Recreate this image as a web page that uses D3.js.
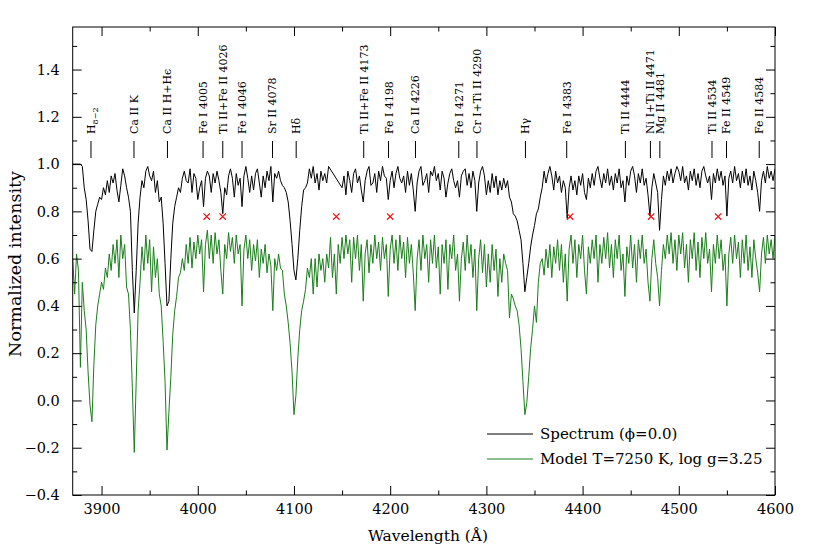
<!DOCTYPE html>
<html><head><meta charset="utf-8">
<script src="https://cdn.jsdelivr.net/npm/d3@7"></script>
<style>body{margin:0;background:#fff} svg{display:block} text{font-family:"DejaVu Serif",serif;fill:#000}</style>
</head><body><svg id="c" width="817" height="550"></svg>
<script>
// ---- data ----
const lambdaStart = 3870, lambdaStep = 2;   // sampling of both spectra (Å)
// Observed spectrum (phi = 0.0), one row = 20 Å; null = no data (gap)
const observed = [
 1.00,1.00,1.00,1.00,1.00,0.99,0.90,0.85,0.76,0.64,
 0.63,0.72,0.80,0.83,0.86,0.85,0.90,0.87,0.93,0.88,
 0.95,0.92,0.96,0.89,0.84,0.91,0.98,0.95,0.90,0.86,
 0.80,0.55,0.37,0.55,0.75,0.86,0.93,0.90,0.97,0.99,
 0.95,0.93,0.97,0.88,0.93,0.84,0.86,0.75,0.58,0.40,
 0.42,0.60,0.75,0.82,0.86,0.90,0.88,0.94,0.97,0.93,
 0.92,0.98,0.88,0.96,0.94,0.85,0.90,0.93,0.82,0.94,
 0.97,0.95,0.88,0.96,0.92,0.97,0.93,0.88,0.79,0.90,
 0.87,0.95,0.98,0.94,0.86,0.96,0.91,0.94,0.82,0.95,
 0.99,0.94,0.88,0.95,0.89,0.96,0.98,0.92,0.86,0.95,
 0.90,0.97,0.93,0.99,0.84,0.96,0.94,0.97,0.93,0.91,
 0.90,0.88,0.84,0.76,0.66,0.55,0.51,0.60,0.72,0.82,
 0.89,0.90,0.92,0.98,0.94,0.99,0.92,0.96,0.89,0.97,
 0.93,0.96,0.92,0.99,null,null,null,null,null,null,
 0.90,0.95,0.87,0.97,0.93,0.88,0.96,0.98,0.92,0.95,
 0.89,0.84,0.93,0.97,0.99,0.91,0.92,0.96,0.88,0.97,
 0.93,0.99,0.95,0.94,0.85,0.93,0.97,0.90,0.96,0.99,
 0.94,0.92,0.95,0.88,0.97,0.91,0.96,0.89,0.80,0.92,
 0.97,0.99,0.91,0.93,0.96,0.88,0.97,0.95,0.99,0.93,
 0.96,0.89,0.97,0.94,0.86,0.92,0.96,0.98,0.93,0.90,
 0.93,0.86,0.95,0.97,0.98,0.91,0.96,0.90,0.97,0.93,
 0.80,0.92,0.97,0.99,0.95,0.87,0.93,0.88,0.96,0.90,
 0.95,0.87,0.93,0.89,0.94,0.90,0.93,0.86,0.84,0.79,
 0.78,0.76,0.72,0.68,0.58,0.46,0.52,0.58,0.65,0.70,
 0.74,0.79,0.81,0.86,0.90,0.97,0.92,0.96,0.99,0.95,
 0.89,0.97,0.92,0.95,0.88,0.93,0.90,0.77,0.90,0.95,
 0.89,0.93,0.87,0.95,0.91,0.96,0.88,0.85,0.94,0.90,
 0.96,0.91,0.97,0.99,0.94,0.90,0.96,0.92,0.98,0.91,
 0.95,0.89,0.96,0.92,0.98,0.90,0.93,0.84,0.95,0.91,
 0.97,0.99,0.95,0.88,0.96,0.92,0.98,0.91,0.94,0.87,
 0.78,0.90,0.96,0.92,0.88,0.72,0.85,0.95,0.91,0.97,
 0.93,0.98,0.92,0.96,0.99,0.97,0.93,0.99,0.92,0.95,
 0.89,0.97,0.93,0.98,0.91,0.96,0.90,0.97,0.99,0.95,
 0.92,0.95,0.85,0.96,0.92,0.98,0.93,0.97,0.91,0.95,
 0.78,0.94,0.97,0.92,0.99,0.93,0.96,0.90,0.97,0.92,
 0.98,0.91,0.95,0.89,0.97,0.93,0.88,0.80,0.93,0.97,
 0.92,0.99,0.94,0.97,0.93,0.98
];
// Model T=7250 K, log g=3.25, same sampling
const model = [
 0.60,0.45,0.62,0.55,0.14,0.50,0.38,0.30,0.12,-0.02,
 -0.09,0.15,0.32,0.40,0.45,0.50,0.47,0.56,0.52,0.62,
 0.55,0.66,0.58,0.68,0.52,0.70,0.60,0.66,0.48,0.45,
 0.30,0.05,-0.22,0.08,0.38,0.50,0.65,0.55,0.70,0.58,
 0.68,0.46,0.65,0.52,0.60,0.45,0.40,0.25,0.08,-0.21,
 -0.05,0.10,0.28,0.38,0.44,0.52,0.54,0.60,0.55,0.66,
 0.58,0.69,0.56,0.67,0.60,0.70,0.62,0.68,0.46,0.66,
 0.72,0.60,0.70,0.58,0.71,0.62,0.68,0.55,0.45,0.66,
 0.60,0.71,0.63,0.69,0.58,0.70,0.62,0.66,0.40,0.64,
 0.70,0.60,0.68,0.55,0.66,0.59,0.68,0.52,0.64,0.58,
 0.66,0.54,0.62,0.57,0.38,0.60,0.55,0.62,0.56,0.55,
 0.45,0.40,0.33,0.24,0.12,-0.06,0.02,0.18,0.30,0.38,
 0.42,0.47,0.56,0.52,0.60,0.45,0.60,0.48,0.62,0.55,
 0.60,0.50,0.62,0.56,0.69,0.52,0.62,0.45,0.66,0.58,
 0.69,0.60,0.70,0.62,0.68,0.50,0.69,0.60,0.70,0.55,
 0.66,0.42,0.62,0.68,0.54,0.66,0.58,0.70,0.60,0.67,
 0.55,0.69,0.60,0.66,0.44,0.64,0.70,0.58,0.68,0.55,
 0.70,0.60,0.67,0.52,0.69,0.58,0.66,0.54,0.38,0.60,
 0.68,0.55,0.70,0.60,0.66,0.50,0.68,0.58,0.70,0.56,
 0.65,0.45,0.66,0.58,0.68,0.47,0.66,0.60,0.70,0.55,
 0.62,0.42,0.60,0.67,0.55,0.70,0.58,0.66,0.52,0.64,
 0.38,0.60,0.68,0.54,0.66,0.48,0.62,0.50,0.66,0.55,
 0.64,0.44,0.60,0.50,0.62,0.58,0.55,0.35,0.45,0.43,
 0.40,0.38,0.32,0.22,0.08,-0.06,-0.01,0.10,0.22,0.30,
 0.40,0.33,0.50,0.58,0.60,0.53,0.64,0.56,0.66,0.52,
 0.65,0.58,0.68,0.55,0.66,0.50,0.62,0.42,0.64,0.70,
 0.58,0.68,0.52,0.66,0.60,0.70,0.55,0.45,0.65,0.58,
 0.68,0.60,0.70,0.50,0.66,0.58,0.69,0.60,0.71,0.56,
 0.66,0.52,0.68,0.60,0.70,0.55,0.62,0.44,0.65,0.58,
 0.70,0.56,0.66,0.50,0.68,0.60,0.70,0.58,0.64,0.50,
 0.42,0.60,0.68,0.58,0.52,0.40,0.55,0.66,0.60,0.70,
 0.62,0.71,0.58,0.68,0.55,0.70,0.62,0.71,0.56,0.66,
 0.50,0.68,0.60,0.71,0.55,0.67,0.52,0.69,0.60,0.71,
 0.58,0.64,0.46,0.66,0.58,0.70,0.60,0.68,0.55,0.62,
 0.40,0.62,0.69,0.58,0.70,0.60,0.67,0.52,0.68,0.58,
 0.70,0.55,0.65,0.52,0.68,0.60,0.54,0.46,0.62,0.69,
 0.58,0.70,0.62,0.68,0.60,0.70
];
// Line identifications
const lineLabels = ["H_8\u22122","Ca II K","Ca II H+H\u03F5","Fe I 4005","Ti II+Fe II 4026","Fe I 4046","Sr II 4078","H\u03B4",
  "Ti II+Fe II 4173","Fe I 4198","Ca II 4226","Fe I 4271","Cr I+Ti II 4290","H\u03B3","Fe I 4383",
  "Ti II 4444","Ni I+Ti II 4471","Mg II 4481","Ti II 4534","Fe II 4549","Fe II 4584"];
const lineWaves = [3889,3933.7,3968.5,4005.5,4026,4046,4077.7,4102.3,4172.5,4198.3,4226.3,4271.3,4290.2,4340.6,4383.5,
  4444.5,4470.5,4480.3,4534.5,4549.6,4583.6];
// Red crosses
const crossWaves = [4009.3, 4025.9, 4144, 4200, 4387, 4471.2, 4540.9];
const crossLevel = 0.778;
// Axes
const xTicks = [3900,4000,4100,4200,4300,4400,4500,4600];
const xMinor = [3900,3950,4000,4050,4100,4150,4200,4250,4300,4350,4400,4450,4500,4550];
const yTicks = [-0.4,-0.2,0.0,0.2,0.4,0.6,0.8,1.0,1.2,1.4];
const yMinor = [-0.3,-0.1,0.1,0.3,0.5,0.7,0.9,1.1,1.3,1.5];
const seriesNames = ["Spectrum (\u03D5=0.0)", "Model T=7250 K, log g=3.25"];
const seriesColors = ["#000000", "#1b7d1b"];

// ---- layout ----
const L = 72.7, R = 775, T = 27, B = 495;
const svg = d3.select("#c");
const x = d3.scaleLinear().domain([3870, 4600]).range([L, R]);
const y = d3.scaleLinear().domain([-0.4, 1.58]).range([B, T]);

const toPts = arr => arr.map((v, i) => [lambdaStart + i * lambdaStep, v]).filter(d => d[1] !== null);
const line = d3.line().x(d => x(d[0])).y(d => y(d[1]));

svg.append("clipPath").attr("id","pc").append("rect")
  .attr("x", L).attr("y", T).attr("width", R - L).attr("height", B - T);

const plot = svg.append("g").attr("clip-path","url(#pc)");
plot.append("path").datum(toPts(model)).attr("d", line)
  .attr("fill","none").attr("stroke", seriesColors[1]).attr("stroke-width", 1);
plot.append("path").datum(toPts(observed)).attr("d", line)
  .attr("fill","none").attr("stroke", seriesColors[0]).attr("stroke-width", 1);

// crosses
const cs = 3.2;
svg.append("g").selectAll("path").data(crossWaves).join("path")
  .attr("d", d => {
    const cx = x(d), cy = y(crossLevel);
    return `M${cx-cs},${cy-cs}L${cx+cs},${cy+cs}M${cx-cs},${cy+cs}L${cx+cs},${cy-cs}`;
  })
  .attr("stroke", "#ff0000").attr("stroke-width", 1.1).attr("fill","none");

// line ID marks and labels
const ids = svg.append("g");
ids.selectAll("line").data(lineWaves).join("line")
  .attr("x1", d => x(d)).attr("x2", d => x(d)).attr("y1", 141).attr("y2", 158)
  .attr("stroke","#000").attr("stroke-width",1);
ids.selectAll("text").data(lineLabels).join("text")
  .attr("transform", (d, i) => `translate(${x(lineWaves[i])},134) rotate(-90)`)
  .attr("dy","0.36em").attr("font-size", 11)
  .each(function(d) {
    const t = d3.select(this);
    if (d.includes("_")) {
      const [a, b] = d.split("_");
      t.append("tspan").text(a);
      t.append("tspan").attr("font-size", 8).attr("dy", "3").text(b);
    } else t.text(d);
  });

// axes
const fontSize = 14.5;
function styleAxis(g) {
  g.select(".domain").remove();
  g.selectAll(".tick line").attr("stroke","#000").attr("stroke-width",1);
  g.selectAll("text").attr("font-size", fontSize).attr("font-family","DejaVu Serif, serif").attr("fill","#000");
}
const minorX = xMinor.filter(v => !xTicks.includes(v));
svg.append("g").attr("transform",`translate(0,${B})`)
  .call(d3.axisBottom(x).tickValues(xTicks).tickFormat(d3.format("d")).tickSizeInner(-9).tickSizeOuter(0).tickPadding(9))
  .call(styleAxis);
svg.append("g").attr("transform",`translate(0,${B})`)
  .call(d3.axisBottom(x).tickValues(minorX).tickFormat("").tickSizeInner(-4.5).tickSizeOuter(0))
  .call(styleAxis);
svg.append("g").attr("transform",`translate(0,${T})`)
  .call(d3.axisTop(x).tickValues(xTicks).tickFormat("").tickSizeInner(-9).tickSizeOuter(0))
  .call(styleAxis);
svg.append("g").attr("transform",`translate(0,${T})`)
  .call(d3.axisTop(x).tickValues(minorX).tickFormat("").tickSizeInner(-4.5).tickSizeOuter(0))
  .call(styleAxis);
svg.append("g").attr("transform",`translate(${L},0)`)
  .call(d3.axisLeft(y).tickValues(yTicks).tickFormat(d3.format(".1f")).tickSizeInner(-9).tickSizeOuter(0).tickPadding(13))
  .call(styleAxis);
svg.append("g").attr("transform",`translate(${L},0)`)
  .call(d3.axisLeft(y).tickValues(yMinor).tickFormat("").tickSizeInner(-4.5).tickSizeOuter(0))
  .call(styleAxis);
svg.append("g").attr("transform",`translate(${R},0)`)
  .call(d3.axisRight(y).tickValues(yTicks).tickFormat("").tickSizeInner(-9).tickSizeOuter(0))
  .call(styleAxis);
svg.append("g").attr("transform",`translate(${R},0)`)
  .call(d3.axisRight(y).tickValues(yMinor).tickFormat("").tickSizeInner(-4.5).tickSizeOuter(0))
  .call(styleAxis);

svg.append("rect").attr("x", L).attr("y", T).attr("width", R - L).attr("height", B - T)
  .attr("fill","none").attr("stroke","#000").attr("stroke-width",1);

// axis titles
svg.append("text").attr("x", 428).attr("y", 541).attr("text-anchor","middle")
  .attr("font-size", 15.5).text("Wavelength (\u00C5)");
svg.append("text").attr("transform", `translate(21,264) rotate(-90)`)
  .attr("text-anchor","middle").attr("font-size", 17.5).text("Normalized intensity");

// legend
const lg = svg.append("g");
seriesNames.forEach((n, i) => {
  const ly = 434 + i * 25;
  lg.append("line").attr("x1", 487).attr("x2", 533).attr("y1", ly).attr("y2", ly)
    .attr("stroke", seriesColors[i]).attr("stroke-width", 1);
  lg.append("text").attr("x", 540).attr("y", ly).attr("dy","0.35em").attr("font-size", 15).text(n);
});
</script></body></html>
